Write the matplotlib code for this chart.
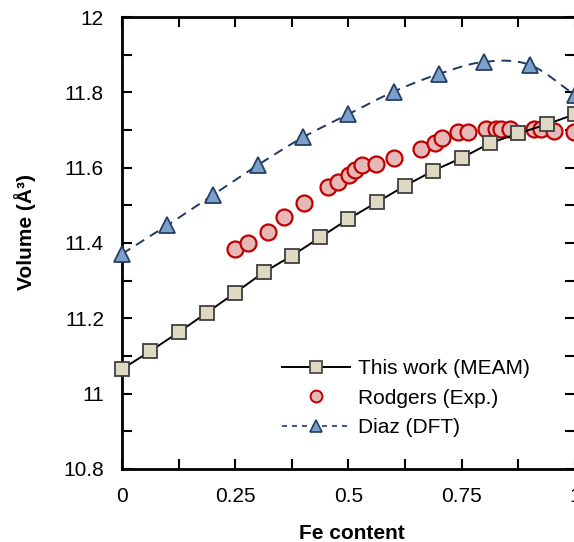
import numpy as np
import matplotlib
matplotlib.use("Agg")
import matplotlib.pyplot as plt
from matplotlib.lines import Line2D
from matplotlib.ticker import MultipleLocator, FuncFormatter

plt.rcParams['font.family'] = ['Liberation Sans', 'DejaVu Sans']

# MEAM (this work)
meam_x = [0, 0.0625, 0.125, 0.1875, 0.25, 0.3125, 0.375, 0.4375, 0.5, 0.5625,
          0.625, 0.6875, 0.75, 0.8125, 0.875, 0.9375, 1.0]
meam_y = [11.065, 11.113, 11.163, 11.215, 11.268, 11.322, 11.366, 11.415, 11.464,
          11.508, 11.552, 11.592, 11.626, 11.665, 11.691, 11.715, 11.742]

# Rodgers (Exp.)
exp_x = [0.250, 0.278, 0.322, 0.358, 0.401, 0.455, 0.476, 0.501, 0.515, 0.530,
         0.561, 0.600, 0.659, 0.692, 0.706, 0.742, 0.764, 0.803, 0.825, 0.836,
         0.857, 0.909, 0.925, 0.953, 0.998]
exp_y = [11.383, 11.399, 11.429, 11.470, 11.506, 11.549, 11.561, 11.580, 11.594, 11.607,
         11.610, 11.625, 11.650, 11.666, 11.678, 11.694, 11.695, 11.702, 11.703, 11.703,
         11.702, 11.702, 11.702, 11.698, 11.694]

# Diaz (DFT)
dft_x = [0.0, 0.1, 0.2, 0.3, 0.4, 0.5, 0.6, 0.7, 0.8, 0.9, 1.0]
dft_y = [11.371, 11.447, 11.527, 11.607, 11.681, 11.742, 11.802, 11.849, 11.881, 11.873, 11.793]

labels = ['This work (MEAM)', 'Rodgers (Exp.)', 'Diaz (DFT)']
x_ticks = [0, 0.25, 0.5, 0.75, 1]
y_ticks = [10.8, 11, 11.2, 11.4, 11.6, 11.8, 12]


def smooth_curve(xs, ys, n=20):
    # Catmull-Rom rendering of a smoothed line through the given points
    p = np.column_stack([xs, ys]).astype(float)
    p = np.vstack([2 * p[0] - p[1], p, 2 * p[-1] - p[-2]])
    out = []
    t = np.linspace(0, 1, n, endpoint=False)[:, None]
    for i in range(1, len(p) - 2):
        p0, p1, p2, p3 = p[i - 1], p[i], p[i + 1], p[i + 2]
        seg = 0.5 * ((2 * p1) + (-p0 + p2) * t + (2 * p0 - 5 * p1 + 4 * p2 - p3) * t ** 2
                     + (-p0 + 3 * p1 - 3 * p2 + p3) * t ** 3)
        out.append(seg)
    out.append(p[-2][None, :])
    out = np.vstack(out)
    return out[:, 0], out[:, 1]


W, H = 574, 542
FS = 15
fig = plt.figure(figsize=(W / 100, H / 100), dpi=100)
ax = fig.add_axes([122 / W, 1 - 469 / H, (575 - 122) / W, (469 - 17) / H])

sq_face, sq_edge = '#DDD9C3', '#3F3F3F'
c_face, c_edge = '#E6B9B8', '#C00000'
t_face, t_edge = '#7BA0CD', '#254061'
dash_col = '#1F3864'

ax.plot(meam_x, meam_y, '-', color='black', lw=1.4, marker='s', ms=10.5,
        mfc=sq_face, mec=sq_edge, mew=1.3, clip_on=False, zorder=5)
ax.plot(exp_x, exp_y, 'o', ms=11.5, mfc=c_face, mec=c_edge, mew=1.6,
        clip_on=False, zorder=4)
sx, sy = smooth_curve(dft_x, dft_y)
ax.plot(sx, sy, color=dash_col, lw=1.4, ls=(0, (5, 3.5)), clip_on=False, zorder=3)
ax.plot(dft_x, dft_y, ls='none', marker='^', ms=11.5, mfc=t_face, mec=t_edge,
        mew=1.3, clip_on=False, zorder=6)

ax.set_xlim(0, 1)
ax.set_ylim(10.8, 12)
ax.set_xticks(x_ticks)
ax.set_yticks(y_ticks)
ax.xaxis.set_minor_locator(MultipleLocator(0.125))
ax.yaxis.set_minor_locator(MultipleLocator(0.1))
fmt = FuncFormatter(lambda v, p: ('%g' % round(v, 4)))
ax.xaxis.set_major_formatter(fmt)
ax.yaxis.set_major_formatter(fmt)

ax.tick_params(which='both', direction='in', top=True, right=True, length=7,
               width=1.5, labelsize=FS, colors='black')
ax.tick_params(axis='y', which='major', pad=13)
ax.tick_params(axis='x', which='major', pad=13)
for s in ax.spines.values():
    s.set_linewidth(2)

ax.set_xlabel('Fe content', fontsize=FS, fontweight='bold')
ax.xaxis.set_label_coords((352 - 122) / 453, -(539 - 469) / 452)
ax.xaxis.label.set_va('baseline')
ax.set_ylabel('Volume (Å³)', fontsize=FS, fontweight='bold')
ax.yaxis.set_label_coords((36 - 122) / 453, (469 - 232) / 452)

handles = [
    Line2D([], [], color='black', lw=1.4, marker='s', ms=8, mfc=sq_face, mec=sq_edge, mew=1.2),
    Line2D([], [], ls='none', marker='o', ms=8.5, mfc=c_face, mec=c_edge, mew=1.4),
    Line2D([], [], color=dash_col, lw=1.2, ls=(0, (3, 3)), marker='^', ms=8,
           mfc=t_face, mec=t_edge, mew=1.2),
]
ax.legend(handles, labels, loc='upper left', bbox_to_anchor=(0.317, 0.28), frameon=False,
          fontsize=FS, handlelength=3.27, handletextpad=0.38, labelspacing=0.5,
          borderpad=0.3)

fig.savefig('out.png', dpi=100)
